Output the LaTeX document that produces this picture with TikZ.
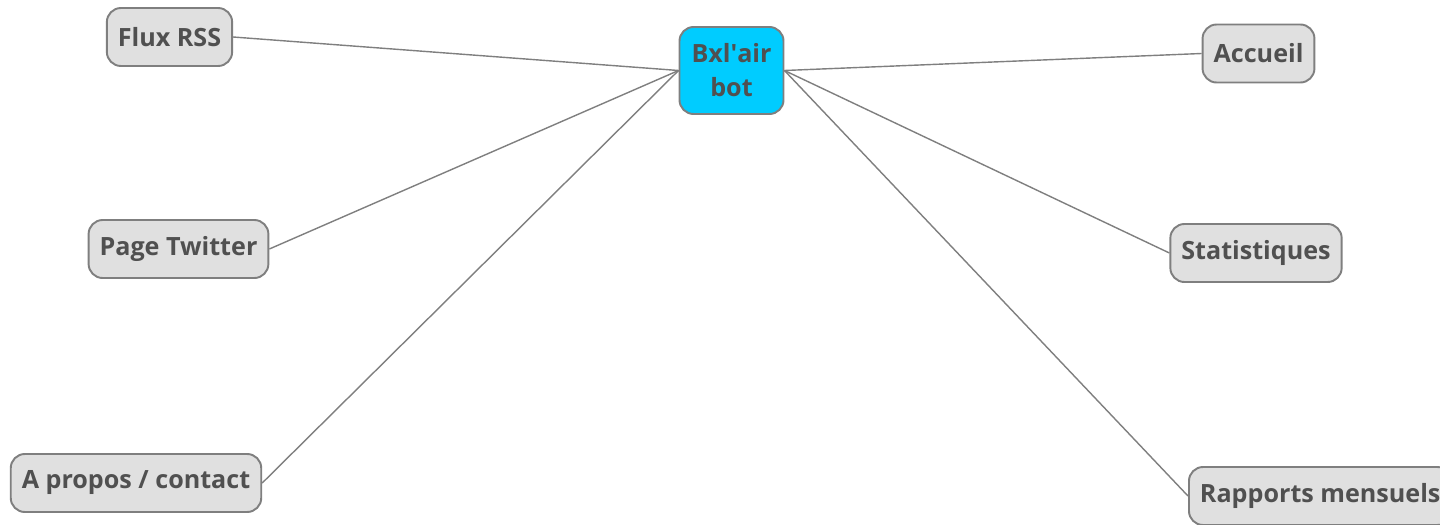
\documentclass[tikz,border=0pt]{standalone}
\usepackage{fontspec}
\setmainfont{Open Sans}
\usetikzlibrary{positioning}

\definecolor{randgrau}{HTML}{7F7F7F}
\definecolor{blattgrau}{HTML}{E0E0E0}
\definecolor{textgrau}{HTML}{505050}
\definecolor{zentrumblau}{HTML}{00CCFF}

\begin{document}
\begin{tikzpicture}[x=0.02cm, y=-0.02cm,
    blatt/.style={draw=randgrau, fill=blattgrau, line width=1.1pt, rounded corners=8pt,
        minimum height=1.16cm, inner xsep=0.22cm, text=textgrau,
        font=\bfseries\fontsize{14.3}{19.3}\selectfont},
    zentrum/.style={blatt, fill=zentrumblau, align=center, minimum height=1.74cm, inner xsep=0.24cm},
    ast/.style={draw=randgrau, line width=0.8pt}]

    % 1. Rahmen (Bildgroesse)
    \useasboundingbox (0,0) rectangle (1440,524);

    % 2. Zentraler Knoten
    \node[zentrum] (bot) at (731.5,70.5) {Bxl\textquotesingle air\\bot};

    % 3. Linke Seite
    \node[blatt] (rss) at (169.5,37) {Flux RSS};
    \node[blatt] (twitter) at (178.5,249) {Page Twitter};
    \node[blatt] (apropos) at (136,483) {A propos / contact};

    % 4. Rechte Seite
    \node[blatt] (accueil) at (1258.5,53.5) {Accueil};
    \node[blatt] (stats) at (1256,253) {Statistiques};
    \node[blatt, anchor=west] (rapports) at (1188,496) {Rapports mensuels};

    % 5. Verbindungen
    \draw[ast] (bot.west) -- (rss.east);
    \draw[ast] (bot.west) -- (twitter.east);
    \draw[ast] (bot.west) -- (apropos.east);
    \draw[ast] (bot.east) -- (accueil.west);
    \draw[ast] (bot.east) -- (stats.west);
    \draw[ast] (bot.east) -- (rapports.west);

\end{tikzpicture}
\end{document}
